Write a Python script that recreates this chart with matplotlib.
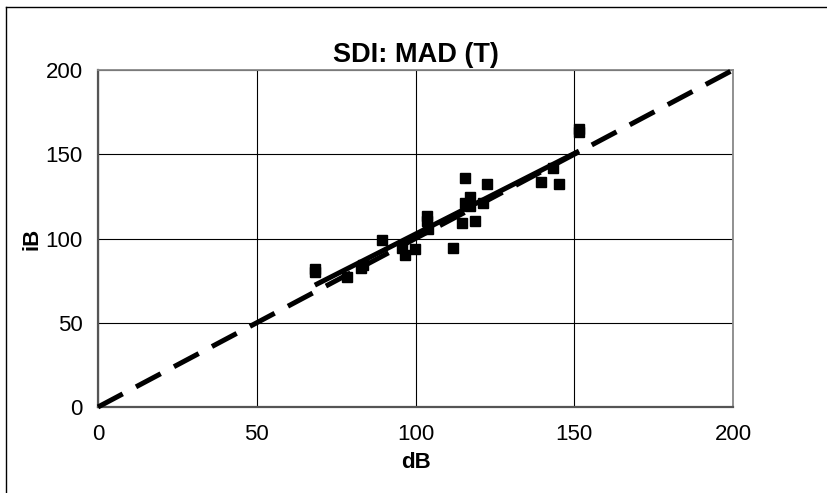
# Scatter of iB vs dB with a fitted trend line and the 1:1 reference line
import numpy as np
import matplotlib.pyplot as plt
from matplotlib.lines import Line2D

# Values
db_values = [68.3, 68.3, 78.3, 82.8, 83.5, 89.5, 95.6, 96.8, 99.8, 103.5, 103.5, 103.8,
             111.8, 114.5, 115.6, 115.6, 117.2, 117.2, 118.7, 121.4, 122.4,
             139.5, 143.4, 145.2, 151.5, 151.5]
ib_values = [80.0, 82.0, 77.2, 82.5, 84.5, 99.0, 94.5, 90.2, 93.8, 113.5, 110.5, 105.5,
             94.2, 109.0, 135.7, 121.0, 124.4, 119.0, 110.4, 121.0, 132.3,
             133.7, 141.7, 132.3, 165.0, 163.5]
axis_ticks = [0, 50, 100, 150, 200]

plt.rcParams["font.family"] = ["Liberation Sans", "DejaVu Sans"]

fig = plt.figure(figsize=(8.27, 4.93), dpi=100)
ax = fig.add_axes([98 / 827, 1 - 407 / 493, (733 - 98) / 827, (407 - 70) / 493])

# Outer chart border (only top and left edges show in the crop)
fig.add_artist(Line2D([6 / 827, 1.0], [1 - 7 / 493, 1 - 7 / 493], color="black", linewidth=1.0))
fig.add_artist(Line2D([6 / 827, 6 / 827], [0.0, 1 - 7 / 493], color="black", linewidth=1.0))

# Trend line fitted to the points, drawn across their range
slope, intercept = np.polyfit(db_values, ib_values, 1)
fit_x = np.array([min(db_values), max(db_values)])
ax.plot(fit_x, slope * fit_x + intercept, color="black", linewidth=3.6,
        solid_capstyle="butt", zorder=3)

# 1:1 reference line
ax.plot([axis_ticks[0], axis_ticks[-1]], [axis_ticks[0], axis_ticks[-1]], color="black",
        linewidth=3.6, linestyle=(0, (5.6, 3)), dash_capstyle="butt", clip_on=False, zorder=4)

ax.plot(db_values, ib_values, linestyle="none", marker="s", markersize=7.5,
        color="black", zorder=2)

ax.set_xlim(0, 200)
ax.set_ylim(0, 200)
ax.set_xticks(axis_ticks)
ax.set_yticks(axis_ticks)
ax.grid(True, color="black", linewidth=0.8)
ax.set_axisbelow(True)
ax.tick_params(axis="x", length=0, labelsize=16, pad=12.5)
ax.tick_params(axis="y", length=0, labelsize=16, pad=11)

for side in ["left", "bottom"]:
    ax.spines[side].set_color("#555555")
    ax.spines[side].set_linewidth(1.6)
for side in ["top", "right"]:
    ax.spines[side].set_color("#888888")
    ax.spines[side].set_linewidth(1.3)

ax.set_title("SDI: MAD (T)", fontsize=19.5, fontweight="bold", pad=6)
ax.set_xlabel("dB", fontsize=16, fontweight="bold", labelpad=5)
ax.set_ylabel("iB", fontsize=16, fontweight="bold", labelpad=2)

fig.savefig("out.png", dpi=100)
